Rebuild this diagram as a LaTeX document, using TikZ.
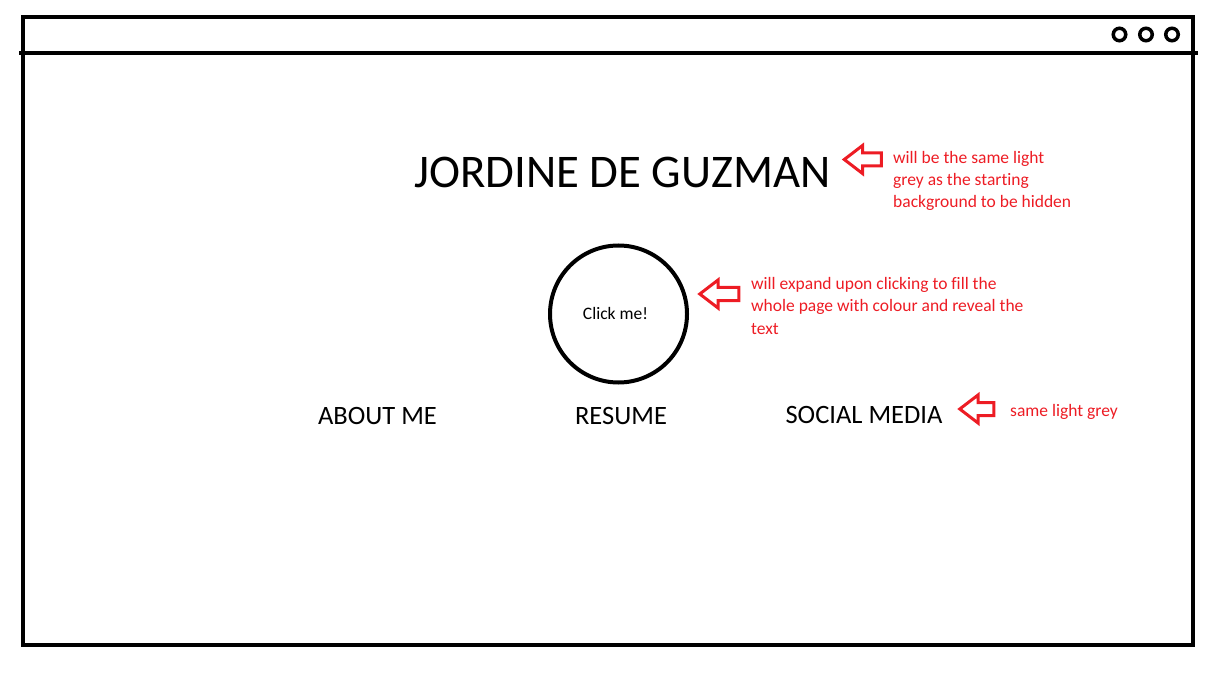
\documentclass[tikz,border=0pt]{standalone}
\usepackage{fontspec}
\setmainfont{Carlito}[Ligatures=NoCommon]
\usepackage{tikz}
\usetikzlibrary{shapes.arrows}
\definecolor{notered}{RGB}{237,28,36}

\begin{document}
\begin{tikzpicture}[x=1pt,y=-1pt,
	frame/.style={line width=4pt},
	dot/.style={circle,draw,line width=3.5pt,minimum size=12.5pt,inner sep=0pt},
	navitem/.style={font=\fontsize{26.5}{30}\selectfont,anchor=base,inner sep=0pt},
	note/.style={text=notered,font=\fontsize{17.5}{22}\selectfont,align=left,anchor=base west,inner sep=0pt},
	pointer/.style={single arrow,draw=notered,line width=3pt,shape border rotate=180,
		single arrow tip angle=75,single arrow head extend=7.5pt,inner xsep=0pt,inner ysep=5pt,
		minimum height=37pt}
	]
	\useasboundingbox (0,0) rectangle (1231,676);
	\draw[frame] (22.5,17.5) rectangle (1192.5,645);
	\draw[frame] (19,53.5) -- (1198,53.5);
	\node[dot] (b1) at (1119.5,34.5) {};
	\node[dot] (b2) at (1146,34.5) {};
	\node[dot] (b3) at (1172,34.5) {};

	\node[anchor=base,inner sep=0pt,font=\fontsize{46.8}{50}\selectfont] (title) at (622.5,188) {JORDINE DE GUZMAN};
	\node[circle,draw,line width=4pt,minimum size=137pt,inner sep=0pt] (btn) at (618.5,314) {};
	\node[anchor=base,inner sep=0pt,font=\fontsize{17.5}{20}\selectfont] (click) at (615.5,319) {Click me!};

	\node[navitem] (about) at (377.5,424) {ABOUT ME};
	\node[navitem] (resume) at (621,424) {RESUME};
	\node[navitem] (social) at (864,423) {SOCIAL MEDIA};

	\node[pointer] (p1) at (867,159.5) {};
	\node[pointer,minimum height=39pt] (p2) at (723.5,294) {};
	\node[pointer,minimum height=34pt] (p3) at (981,409) {};

	\node[note] (n1) at (893,208) {will be the same light\\grey as the starting\\background to be hidden};
	\node[note] (n2) at (751,334) {will expand upon clicking to fill the\\whole page with colour and reveal the\\text};
	\node[note] (n3) at (1010,416) {same light grey};
\end{tikzpicture}
\end{document}
